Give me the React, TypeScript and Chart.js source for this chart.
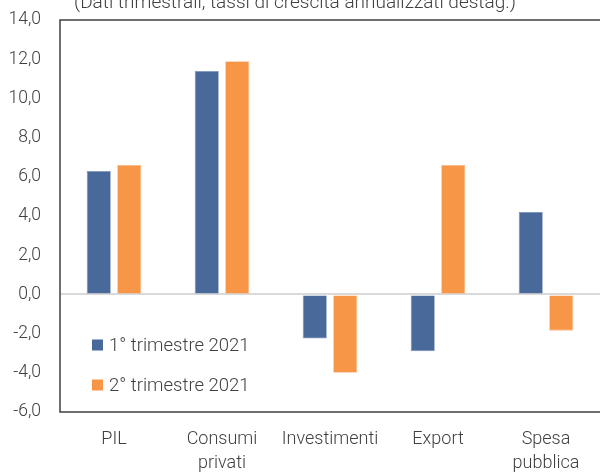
import React, { useEffect, useRef } from "react";
import { Chart, registerables } from "chart.js";

Chart.register(...registerables);

const categories: (string | string[])[] = ["PIL", ["Consumi", "privati"], "Investimenti", "Export", ["Spesa", "pubblica"]];
const q1Values = [6.3, 11.4, -2.25, -2.9, 4.2];
const q2Values = [6.6, 11.9, -4.0, 6.6, -1.85];
const seriesLabels = ["1° trimestre 2021", "2° trimestre 2021"];
const titleText = "(Dati trimestrali, tassi di crescita annualizzati destag.)";
const yMin = -6;
const yMax = 14;
const yStep = 2;

const BLUE = "#48699A";
const ORANGE = "#F79646";
const TEXT = "#404040";
const FONT = "Roboto";

const framePlugin = {
  id: "frame",
  afterDraw(chart: any) {
    const { ctx, chartArea } = chart;
    ctx.save();
    ctx.strokeStyle = "#404040";
    ctx.lineWidth = 1.5;
    ctx.beginPath();
    ctx.moveTo(chartArea.right + 5, chartArea.top);
    ctx.lineTo(chartArea.left, chartArea.top);
    ctx.lineTo(chartArea.left, chartArea.bottom);
    ctx.lineTo(chartArea.right + 5, chartArea.bottom);
    ctx.stroke();
    // title
    ctx.fillStyle = TEXT;
    ctx.font = `300 19px ${FONT}`;
    ctx.textAlign = "center";
    ctx.textBaseline = "alphabetic";
    ctx.fillText(titleText, 295, 8);
    // legend
    const ds = chart.data.datasets;
    ctx.font = `300 18.5px ${FONT}`;
    ctx.textAlign = "left";
    ctx.textBaseline = "middle";
    const x0 = 92;
    const ys = [345, 385];
    ds.forEach((d: any, i: number) => {
      ctx.fillStyle = d.backgroundColor;
      ctx.fillRect(x0, ys[i] - 5.5, 11, 11);
      ctx.fillStyle = TEXT;
      ctx.fillText(d.label, x0 + 17, ys[i] + 1);
    });
    ctx.restore();
  },
};

export default function App() {
  const ref = useRef<HTMLCanvasElement>(null);
  useEffect(() => {
    if (!ref.current) return;
    const chart = new Chart(ref.current, {
      type: "bar",
      data: {
        labels: categories as any,
        datasets: [
          { label: seriesLabels[0], data: q1Values, backgroundColor: BLUE, borderColor: "#7E96BA", borderWidth: 0.8 },
          { label: seriesLabels[1], data: q2Values, backgroundColor: ORANGE, borderColor: "#FAB98A", borderWidth: 0.8 },
        ],
      },
      options: {
        animation: false,
        responsive: false,
        maintainAspectRatio: false,
        layout: { padding: { top: 20, right: 0, left: 0, bottom: 0 } },
        datasets: { bar: { categoryPercentage: 0.565, barPercentage: 0.79 } },
        plugins: { legend: { display: false }, tooltip: { enabled: false }, title: { display: false } },
        scales: {
          x: {
            grid: { display: false, drawTicks: false },
            border: { display: false },
            ticks: { color: TEXT, font: { family: FONT, size: 18, weight: 300 as any, lineHeight: 1.33 }, padding: 16, maxRotation: 0, autoSkip: false },
            afterFit(scale: any) { scale.height = 60; scale.paddingLeft = 0; scale.paddingRight = 0; },
          },
          y: {
            min: yMin,
            max: yMax,
            ticks: {
              stepSize: yStep,
              color: TEXT,
              font: { family: FONT, size: 17.5, weight: 300 as any },
              padding: 19,
              callback: (v: any) => Number(v).toFixed(1).replace(".", ","),
            },
            grid: {
              drawTicks: false,
              color: (c: any) => (c.tick && c.tick.value === 0 ? "#D9D9D9" : "rgba(0,0,0,0)"),
              lineWidth: 2,
            },
            border: { display: false },
            afterFit(scale: any) { scale.width = 60; scale.paddingTop = 0; scale.paddingBottom = 0; },
          },
        },
      },
      plugins: [framePlugin],
    });
    return () => chart.destroy();
  }, []);
  return (
    <div style={{ position: "fixed", left: 0, top: 0, width: 600, height: 472, background: "#fff" }}>
      <canvas ref={ref} width={600} height={472} style={{ width: 600, height: 472, display: "block" }} />
    </div>
  );
}
